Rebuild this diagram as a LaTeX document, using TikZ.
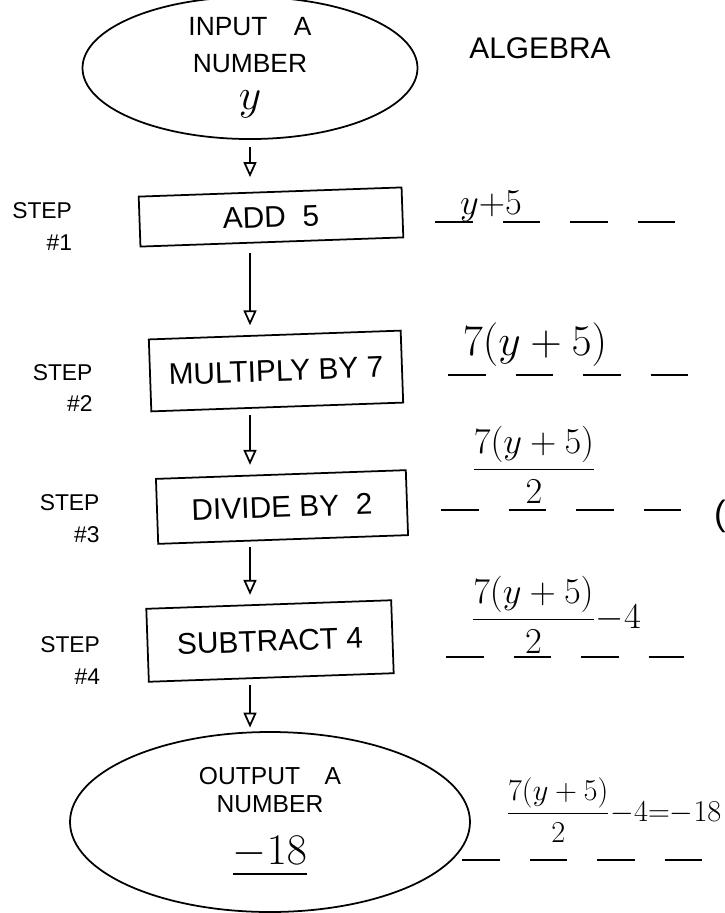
\documentclass[tikz,border=0pt]{standalone}
\usepackage{fontspec}
\setmainfont{Liberation Sans}
\usepackage{amsmath}
\usetikzlibrary{arrows.meta,positioning,shapes.geometric}

\begin{document}
\begin{tikzpicture}[line width=1pt,
    io/.style={ellipse,draw,align=center,inner sep=0pt},
    op/.style={rectangle,draw,rotate=2,inner sep=2pt,font=\fontsize{17}{20}\selectfont},
    lbl/.style={align=right,font=\fontsize{13}{18}\selectfont},
    ex/.style={font=\fontsize{20}{24}\selectfont},
    blank/.style={dash pattern=on 0.75cm off 0.6cm},
    >={Triangle[open,length=3mm,width=2.6mm]}]
  \useasboundingbox (0,0) rectangle (14.5,-18.26);
  \node[io,minimum width=6.7cm,minimum height=2.56cm,font=\fontsize{15}{21}\selectfont] (in) at (5.0,-1.36)
    {INPUT\quad A\\NUMBER\\{\fontsize{26}{26}\selectfont$y$}};
  \node[font=\fontsize{17}{20}\selectfont] (alg) at (10.8,-0.96) {ALGEBRA};
  \node[op,minimum width=5.26cm,minimum height=1.0cm] (b1) at (5.42,-4.34) {ADD\ \ 5};
  \node[op,minimum width=5.04cm,minimum height=1.44cm] (b2) at (5.52,-7.42) {MULTIPLY BY 7};
  \node[op,minimum width=5.0cm,minimum height=1.3cm] (b3) at (5.64,-10.14) {DIVIDE BY\ \ 2};
  \node[op,minimum width=4.9cm,minimum height=1.46cm] (b4) at (5.4,-12.82) {SUBTRACT 4};
  \node[io,minimum width=8.0cm,minimum height=3.6cm,font=\fontsize{14}{16}\selectfont] (out) at (5.4,-16.44)
    {OUTPUT\quad A\\NUMBER\\[12pt]{\fontsize{26}{26}\selectfont\underline{$-18$}}};
  \node[lbl,left=1.2cm of b1,yshift=-0.1cm] (s1) {STEP\\\#1};
  \node[lbl,left=1.0cm of b2,yshift=-0.25cm] (s2) {STEP\\\#2};
  \node[lbl,left=1.0cm of b3,yshift=-0.15cm] (s3) {STEP\\\#3};
  \node[lbl,left=0.8cm of b4,yshift=-0.3cm] (s4) {STEP\\\#4};
  \draw[->,shorten <=4pt,shorten >=8pt] (in.south) -- (in.south |- b1.north);
  \draw[->,shorten <=6pt,shorten >=5pt] (b1.south -| in) -- (b2.north -| in);
  \draw[->,shorten <=4pt,shorten >=5pt] (b2.south -| in) -- (b3.north -| in);
  \draw[->,shorten <=4pt,shorten >=5pt] (b3.south -| in) -- (b4.north -| in);
  \draw[->,shorten <=4pt,shorten >=2pt] (b4.south -| in) -- (out.north -| in);
  \node[ex] (e1) at (9.82,-4.12) {$y{+}5$};
  \node[ex,font=\fontsize{23}{26}\selectfont] (e2) at (10.7,-6.9) {$7(y+5)$};
  \node[ex] (e3) at (10.68,-9.3) {$\dfrac{7(y+5)}{2}$};
  \node[ex] (e4) at (11.12,-12.3) {$\dfrac{7(y+5)}{2}{-}4$};
  \node[ex,font=\fontsize{18}{22}\selectfont,anchor=east,inner sep=1pt] (e5) at (14.48,-16.2) {$\dfrac{7(y+5)}{2}{-}4{=}{-}18$};
  \node[ex] (par) at (14.4,-10.32) {(};
  \coordinate (d1a) at (8.7,-4.44);  \coordinate (d1b) at (13.5,-4.44);
  \coordinate (d2a) at (8.96,-7.5);  \coordinate (d2b) at (13.96,-7.5);
  \coordinate (d3a) at (8.82,-10.2); \coordinate (d3b) at (13.82,-10.2);
  \coordinate (d4a) at (8.92,-13.14); \coordinate (d4b) at (13.68,-13.14);
  \coordinate (d5a) at (9.24,-17.2); \coordinate (d5b) at (14.5,-17.2);
  \draw[blank] (d1a) -- (d1b);
  \draw[blank] (d2a) -- (d2b);
  \draw[blank] (d3a) -- (d3b);
  \draw[blank] (d4a) -- (d4b);
  \draw[blank] (d5a) -- (d5b);
\end{tikzpicture}
\end{document}
